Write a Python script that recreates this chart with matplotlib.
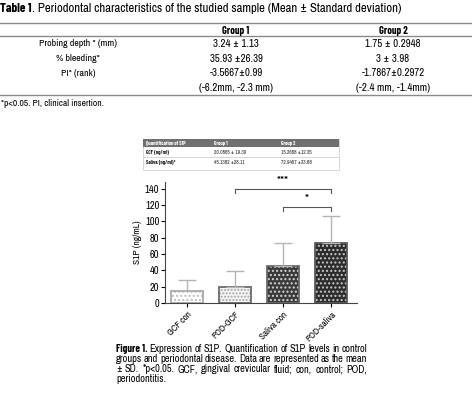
import numpy as np
import matplotlib.pyplot as plt
from matplotlib.lines import Line2D
from matplotlib.patches import Rectangle

NARROW = ['Liberation Sans Narrow', 'Archivo Narrow', 'DejaVu Sans']
BOLDN = ['Liberation Sans Narrow', 'Barlow Condensed', 'DejaVu Sans']
plt.rcParams['font.family'] = NARROW
plt.rcParams['hatch.linewidth'] = 1.0

# table 1
col_heads = ['Group 1', 'Group 2']
row_labels = ['Probing depth * (mm)', '% bleeding*', 'PI* (rank)', '']
group1_txt = ['3.24 \u00b1 1.13', '35.93 \u00b126.39', '-3.5667\u00b10.99', '(-6.2mm, -2.3 mm)']
group2_txt = ['1.75 \u00b1 0.2948', '3 \u00b1 3.98', '-1.7867\u00b10.2972', '(-2.4 mm, -1.4mm)']

# inset table
inset_head = ['Quantification of S1P', 'Group 1', 'Group 2']
inset_rows = [['GCF (ng/ml)', '20.0565 \u00b1 19.30', '15.2658 \u00b112.35'],
              ['Saliva (ng/ml)*', '45.1382 \u00b128.11', '72.9457 \u00b133.88']]

# bar chart
groups = ['GCF con', 'POD-GCF', 'Saliva con', 'POD-saliva']
means = [15.27, 20.06, 45.14, 72.95]
sds = [12.35, 19.30, 28.11, 33.88]

cap_lines = ['Expression of S1P. Quantification of S1P levels in control',
             'groups and periodontal disease. Data are represented as the mean',
             '\u00b1 SD. *p<0.05. GCF, gingival crevicular fluid; con, control; POD,',
             'periodontitis.']

W, H = 472, 393
fig = plt.figure(figsize=(W / 100, H / 100), dpi=100)
rend = fig.canvas.get_renderer()


def fx(x):
    return x / W


def fy(y):
    return 1 - y / H


def width_px(t):
    return t.get_window_extent(renderer=rend).width


def hline(x0, x1, y, c='#8a8a8a', lw=1.0):
    fig.add_artist(Line2D([fx(x0), fx(x1)], [fy(y), fy(y)], color=c, lw=lw, transform=fig.transFigure))


# title
t0 = fig.text(fx(0), fy(8), 'Table 1', fontsize=9.2, fontweight='bold', family=BOLDN, va='center')
fig.text(fx(width_px(t0) + 0.5), fy(8), '. Periodontal characteristics of the studied sample (Mean \u00b1 Standard deviation)',
         fontsize=9.2, va='center')
hline(0, W, 23)
hline(0, W, 36)
hline(0, W, 95)
fig.text(fx(236), fy(30.5), col_heads[0], fontsize=7.5, fontweight='bold', family=BOLDN, ha='center', va='center')
fig.text(fx(393), fy(30.5), col_heads[1], fontsize=7.5, fontweight='bold', family=BOLDN, ha='center', va='center')
for i in range(4):
    y = 44 + i * 14.7
    fig.text(fx(78), fy(y), row_labels[i], fontsize=7.1, ha='center', va='center')
    fig.text(fx(236), fy(y), group1_txt[i], fontsize=7.8, ha='center', va='center')
    fig.text(fx(393), fy(y), group2_txt[i], fontsize=7.8, ha='center', va='center')
fig.text(fx(1), fy(104), '*p<0.05. PI, clinical insertion.', fontsize=6.8, va='center')

# inset table
fig.add_artist(Rectangle((fx(143), fy(170)), fx(339) - fx(143), fy(139) - fy(170),
                         transform=fig.transFigure, fc='white', ec='#d0d0d0', lw=0.6))
fig.add_artist(Rectangle((fx(143), fy(147)), fx(339) - fx(143), fy(139) - fy(147),
                         transform=fig.transFigure, fc='#707070', ec='none'))
hline(143, 339, 157.5, c='#d0d0d0', lw=0.6)
xs = [146, 214, 281]
for j, t in enumerate(inset_head):
    fig.text(fx(xs[j]), fy(143), t, fontsize=3.8, color='white', fontweight='bold', family=BOLDN, va='center')
for i, row in enumerate(inset_rows):
    for j, t in enumerate(row):
        fig.text(fx(xs[j]), fy(152.5 + i * 10), t, fontsize=3.8, color='#222222',
                 fontweight='bold' if j == 0 else 'normal', family=BOLDN if j == 0 else NARROW,
                 va='center')

# bars
ax = fig.add_axes([fx(165), fy(303), fx(357) - fx(165), fy(182) - fy(303)])
x = np.arange(len(groups))
faces = ['#ffffff', '#f6f6f6', '#3a3a3a', '#2c2c2c']
hatches = ['....', '.....', '....', '....']
hcols = ['#bdbdbd', '#a5a5a5', '#d5d5d5', '#c8c8c8']
outl = ['#a8a8a8', '#6c6c6c', '#6a6a6a', '#5a5a5a']
for i in range(len(groups)):
    ax.bar(x[i], means[i], width=0.66, color=faces[i], edgecolor=hcols[i], hatch=hatches[i], lw=0)
    ax.bar(x[i], means[i], width=0.66, color='none', edgecolor=outl[i], lw=1.3)
ax.errorbar(x, means, yerr=[np.zeros(4), sds], fmt='none', ecolor='#b5b5b5', elinewidth=1,
            capsize=6.5, capthick=1)
ax.set_xlim(-0.46, 3.54)
ax.set_ylim(0, 148)
ax.set_yticks(np.arange(0, 141, 20))
ax.set_xticks(x)
ax.set_xticklabels(groups, rotation=45, ha='right', rotation_mode='anchor', fontsize=6.6)
ax.tick_params(axis='y', labelsize=7.5, length=3, pad=1)
ax.tick_params(axis='x', length=3, pad=2)
for s in ['top', 'right']:
    ax.spines[s].set_visible(False)
ax.spines['left'].set_color('#444444')
ax.spines['bottom'].set_color('#444444')
ax.set_ylabel('S1P (ng/mL)', fontsize=6.8, labelpad=2)


def bracket(x0, x1, y, drop, label):
    ax.plot([x0, x0, x1, x1], [y - drop, y, y, y - drop], color='#555555', lw=0.8, clip_on=False)
    ax.text((x0 + x1) / 2, y + 1.5, label, ha='center', va='bottom', fontsize=9, clip_on=False)


bracket(1, 3, 140, 6, '***')
bracket(2, 3, 118, 6, '*')

# caption, justified between x=116 and x=367
left, right = 116, 367
for i, line in enumerate(cap_lines):
    y = 349 + i * 10.1
    words = []
    if i == 0:
        words.append(fig.text(0, fy(y), 'Figure 1.', fontsize=7.5, fontweight='bold', family=BOLDN, va='center'))
    for w in line.split(' '):
        words.append(fig.text(0, fy(y), w, fontsize=7.5, va='center'))
    widths = [width_px(t) for t in words]
    if i < len(cap_lines) - 1:
        gap = (right - left - sum(widths)) / (len(words) - 1)
    else:
        gap = 2.4
    xpos = left
    for t, wpx in zip(words, widths):
        t.set_x(fx(xpos))
        xpos += wpx + gap

fig.savefig('out.png', dpi=100)
